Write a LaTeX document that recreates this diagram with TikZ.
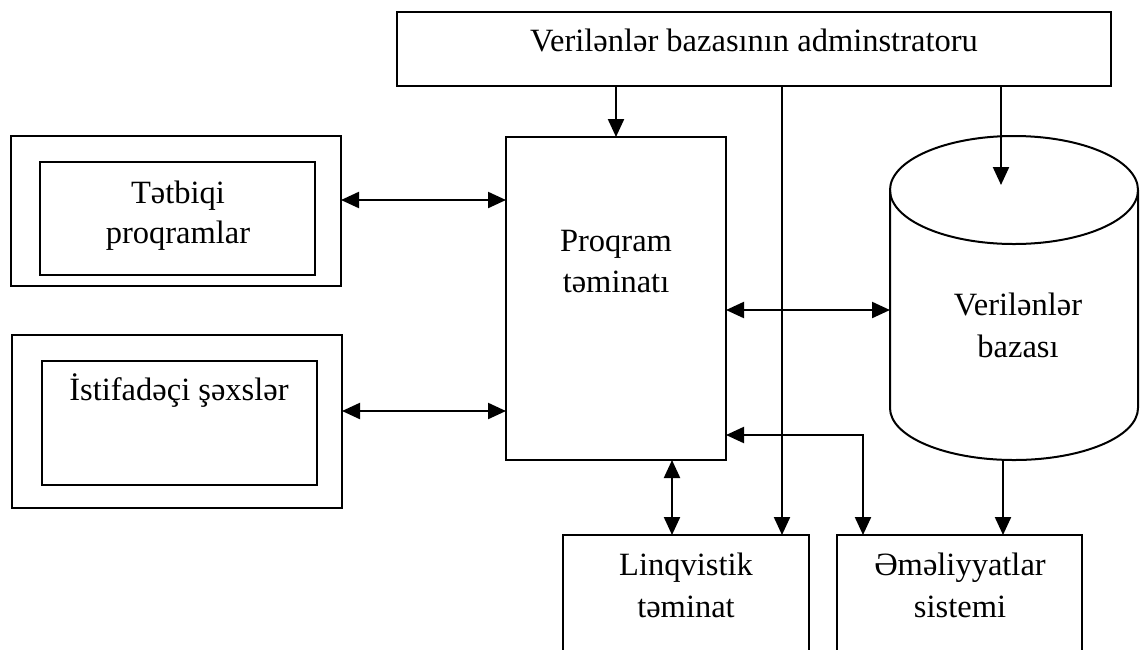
\documentclass[tikz,border=0pt]{standalone}
\usepackage{fontspec}
\setmainfont{Liberation Serif}
\usetikzlibrary{arrows.meta}
\begin{document}
\begin{tikzpicture}[x=1pt,y=-1pt,
  blk/.style={draw, line width=2pt, inner sep=0pt, outer sep=0pt},
  lbl/.style={anchor=base, inner sep=0pt, font=\fontsize{32.5}{38}\selectfont},
  tip/.tip={Triangle[length=18pt,width=16pt]},
  arr/.style={line width=2.2pt, -tip},
  dbl/.style={line width=2.2pt, tip-tip}]
\clip (0,0) rectangle (1140,649);
\fill[white] (0,0) rectangle (1140,649);

% boxes
\node[blk, minimum width=714pt, minimum height=74pt] (admin) at (754,49) {};
\node[blk, minimum width=330pt, minimum height=150pt] (tetout) at (176,210.5) {};
\node[blk, minimum width=275pt, minimum height=113pt] (tetin) at (177.5,218.5) {};
\node[blk, minimum width=330pt, minimum height=173pt] (istout) at (177,421.5) {};
\node[blk, minimum width=275pt, minimum height=124pt] (istin) at (179.5,423) {};
\node[blk, minimum width=220pt, minimum height=323pt] (prog) at (616,298.5) {};
\node[blk, minimum width=246pt, minimum height=170pt] (ling) at (686,620) {};
\node[blk, minimum width=245pt, minimum height=170pt] (ops) at (959.5,620) {};

% database cylinder
\node[inner sep=0pt, outer sep=0pt, minimum width=248pt, minimum height=324pt] (db) at (1014,298) {};
\draw[line width=2pt] ([yshift=-54pt]db.north) ellipse [x radius=124pt, y radius=54pt];
\draw[line width=2pt] ([yshift=-54pt]db.north west) -- ([yshift=52pt]db.south west)
  arc[start angle=180, end angle=360, x radius=124pt, y radius=52pt]
  -- ([yshift=-54pt]db.north east);

% labels
\node[lbl] (aA) at (754,51) {Verilənlər bazasının adminstratoru};
\node[lbl] (tA) at (178,203) {Tətbiqi};
\node[lbl] (tB) at (178,243) {proqramlar};
\node[lbl] (iA) at (179,400) {İstifadəçi şəxslər};
\node[lbl] (pA) at (616,251) {Proqram};
\node[lbl] (pB) at (616,292) {təminatı};
\node[lbl] (dA) at (1018,315) {Verilənlər};
\node[lbl] (dB) at (1018,357) {bazası};
\node[lbl] (lA) at (686,575) {Linqvistik};
\node[lbl] (lB) at (686,617) {təminat};
\node[lbl] (oA) at (960,575) {Əməliyyatlar};
\node[lbl] (oB) at (960,617) {sistemi};

% connector levels
\coordinate (yTet) at (0,200);
\coordinate (yIst) at (0,411);
\coordinate (yDb) at (0,310);
\coordinate (yOps) at (0,435);
\coordinate (xOps) at (863,0);
\coordinate (xLing) at (672,0);
\coordinate (xAdm) at (782,0);
\coordinate (dbIn) at (1001,185);
\coordinate (xDb) at (1003,0);

% connectors
\draw[arr] (admin.south -| prog.north) -- (prog.north);
\draw[arr] (admin.south -| xAdm) -- (ling.north -| xAdm);
\draw[arr] (admin.south -| dbIn) -- (dbIn);
\draw[dbl] (tetout.east |- yTet) -- (prog.west |- yTet);
\draw[dbl] (istout.east |- yIst) -- (prog.west |- yIst);
\draw[dbl] (prog.east |- yDb) -- (db.west |- yDb);
\draw[dbl] (prog.south -| xLing) -- (ling.north -| xLing);
\draw[dbl] (prog.east |- yOps) -- (xOps |- yOps) -- (ops.north -| xOps);
\draw[arr] (db.south -| xDb) -- (ops.north -| xDb);
\end{tikzpicture}
\end{document}
